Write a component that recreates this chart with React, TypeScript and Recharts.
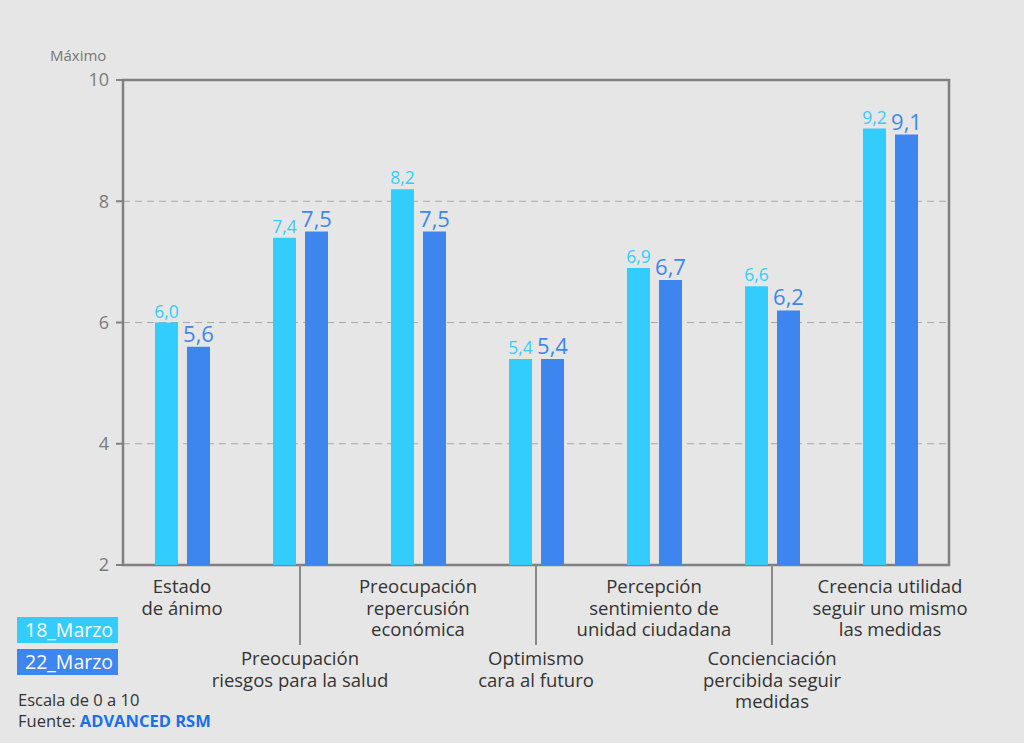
import React from 'react';
import { BarChart, Bar, XAxis, YAxis, CartesianGrid, ReferenceArea, LabelList } from 'recharts';

const categories = [
  ['Estado', 'de ánimo'],
  ['Preocupación', 'riesgos para la salud'],
  ['Preocupación', 'repercusión', 'económica'],
  ['Optimismo', 'cara al futuro'],
  ['Percepción', 'sentimiento de', 'unidad ciudadana'],
  ['Concienciación', 'percibida seguir', 'medidas'],
  ['Creencia utilidad', 'seguir uno mismo', 'las medidas'],
];
const marzo18 = [6.0, 7.4, 8.2, 5.4, 6.9, 6.6, 9.2];
const marzo22 = [5.6, 7.5, 7.5, 5.4, 6.7, 6.2, 9.1];
const yTicks = [2, 4, 6, 8, 10];

const LIGHT = '#33cdfd';
const DARK = '#3d86ef';
const FONT = '"Open Sans", "Noto Sans", sans-serif';

const data = categories.map((c, i) => ({ name: c.join(' '), idx: i, m18: marzo18[i], m22: marzo22[i] }));

const fmt = (v: any) => Number(v).toFixed(1).replace('.', ',');

function CategoryTick(props: any) {
  const { x, y, payload } = props;
  const i = payload.index ?? payload.value;
  const lines = categories[i] || [];
  const lower = i % 2 === 1;
  const startY = lower ? y + 98 : y + 26;
  return (
    <g>
      {lower && <line x1={x} x2={x} y1={y - 2} y2={y + 78} stroke="#8a8a8a" strokeWidth={2} />}
      {lines.map((l: string, k: number) => (
        <text key={k} x={x} y={startY + k * 21.5} textAnchor="middle" fontSize={18.5} fill="#333" fontFamily={FONT}>
          {l}
        </text>
      ))}
    </g>
  );
}

export default function App() {
  return (
    <div style={{ position: 'absolute', left: 0, top: 0, width: 1024, height: 743, background: '#e6e6e6', fontFamily: FONT }}>
      <BarChart width={1024} height={743} data={data} margin={{ top: 80, right: 75, left: 63, bottom: 0 }} barSize={23} barGap={9}>
        <CartesianGrid horizontal vertical={false} stroke="#a8a8a8" strokeDasharray="7 5" />
        <XAxis dataKey="idx" height={178} axisLine={false} tickLine={false} tickSize={0} tick={<CategoryTick />} interval={0} />
        <YAxis
          domain={[2, 10]}
          ticks={yTicks}
          width={60}
          axisLine={false}
          tickLine={{ stroke: '#808080', strokeWidth: 2 }}
          tickSize={7}
          tick={{ fontSize: 18, fill: '#7a7a7a', fontFamily: FONT, dx: -5 }}
        />
        <ReferenceArea y1={2} y2={10} fill="none" stroke="#808080" strokeWidth={2.5} ifOverflow="visible" />
        <Bar dataKey="m18" fill={LIGHT} isAnimationActive={false}>
          <LabelList dataKey="m18" position="top" formatter={fmt} fontSize={17.5} fill={LIGHT} fontFamily={FONT} />
        </Bar>
        <Bar dataKey="m22" fill={DARK} isAnimationActive={false}>
          <LabelList dataKey="m22" position="top" formatter={fmt} fontSize={22} fill={DARK} fontFamily={FONT} />
        </Bar>
      </BarChart>
      <div style={{ position: 'absolute', left: 50, top: 45, fontSize: 15, color: '#777' }}>Máximo</div>
      <div style={{ position: 'absolute', left: 17, top: 617, width: 101, height: 26, background: LIGHT, color: '#fff', fontSize: 19.5, lineHeight: '26px', paddingLeft: 8, boxSizing: 'border-box' }}>18_Marzo</div>
      <div style={{ position: 'absolute', left: 17, top: 649, width: 101, height: 26, background: DARK, color: '#fff', fontSize: 19.5, lineHeight: '26px', paddingLeft: 8, boxSizing: 'border-box' }}>22_Marzo</div>
      <div style={{ position: 'absolute', left: 18, top: 689, fontSize: 16.5, color: '#333', lineHeight: '21px' }}>
        Escala de 0 a 10
        <br />
        Fuente: <span style={{ color: '#1a6fea', fontWeight: 700 }}>ADVANCED RSM</span>
      </div>
    </div>
  );
}
